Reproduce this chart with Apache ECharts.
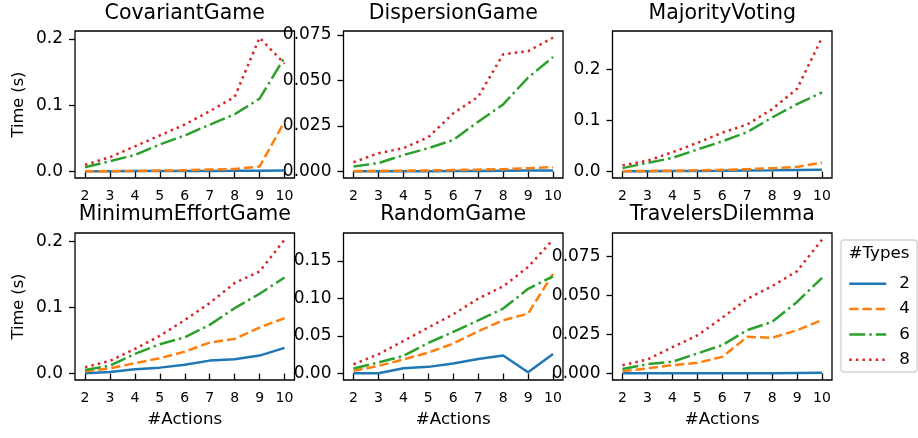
<!DOCTYPE html>
<html>
<head>
<meta charset="utf-8">
<script src="https://cdn.jsdelivr.net/npm/echarts@6/dist/echarts.min.js"></script>
<style>
  html, body { margin: 0; padding: 0; background: #fff; }
  #chart { width: 918px; height: 438px; }
</style>
</head>
<body>
<div id="chart"></div>
<script>
// Number of actions on the x axis
const actions = [2, 3, 4, 5, 6, 7, 8, 9, 10];
const typeNames = ['2', '4', '6', '8'];
const gameTitles = ['CovariantGame', 'DispersionGame', 'MajorityVoting',
                    'MinimumEffortGame', 'RandomGame', 'TravelersDilemma'];

// Solve time (s) per game and number of types
const covariant2 = [0.0005, 0.0006, 0.0007, 0.0008, 0.0009, 0.0010, 0.0011, 0.0013, 0.0015];
const covariant4 = [0.0004, 0.0006, 0.0010, 0.0015, 0.0020, 0.0030, 0.0040, 0.0075, 0.0755];
const covariant6 = [0.0065, 0.0156, 0.0250, 0.0410, 0.0545, 0.0707, 0.0864, 0.1100, 0.1720];
const covariant8 = [0.0101, 0.0217, 0.0380, 0.0545, 0.0710, 0.0910, 0.1126, 0.2020, 0.1630];

const dispersion2 = [0.0001, 0.0001, 0.0002, 0.0002, 0.0003, 0.0003, 0.0004, 0.0005, 0.0006];
const dispersion4 = [0.0002, 0.0003, 0.0004, 0.0006, 0.0008, 0.0010, 0.0013, 0.0018, 0.0024];
const dispersion6 = [0.0027, 0.0046, 0.0090, 0.0128, 0.0173, 0.0273, 0.0368, 0.0515, 0.0628];
const dispersion8 = [0.0051, 0.0100, 0.0128, 0.0188, 0.0319, 0.0410, 0.0643, 0.0660, 0.0734];

const majority2 = [0.0003, 0.0005, 0.0007, 0.0010, 0.0013, 0.0017, 0.0022, 0.0028, 0.0034];
const majority4 = [0.0005, 0.0010, 0.0015, 0.0022, 0.0030, 0.0045, 0.0065, 0.0090, 0.0175];
const majority6 = [0.0066, 0.0166, 0.0265, 0.0430, 0.0590, 0.0770, 0.1057, 0.1320, 0.1550];
const majority8 = [0.0119, 0.0210, 0.0376, 0.0560, 0.0760, 0.0920, 0.1220, 0.1620, 0.2620];

const minEffort2 = [0.0005, 0.0026, 0.0066, 0.0091, 0.0136, 0.0197, 0.0217, 0.0273, 0.0389];
const minEffort4 = [0.0036, 0.0080, 0.0158, 0.0233, 0.0333, 0.0470, 0.0526, 0.0697, 0.0840];
const minEffort6 = [0.0056, 0.0120, 0.0298, 0.0445, 0.0550, 0.0738, 0.0990, 0.1208, 0.1455];
const minEffort8 = [0.0097, 0.0192, 0.0374, 0.0571, 0.0810, 0.1067, 0.1370, 0.1545, 0.2026];

const random2 = [0.0003, 0.0003, 0.0070, 0.0089, 0.0133, 0.0195, 0.0240, 0.0017, 0.0262];
const random4 = [0.0036, 0.0102, 0.0187, 0.0280, 0.0400, 0.0564, 0.0710, 0.0799, 0.1330];
const random6 = [0.0067, 0.0147, 0.0235, 0.0408, 0.0555, 0.0710, 0.0866, 0.1130, 0.1297];
const random8 = [0.0124, 0.0257, 0.0434, 0.0613, 0.0790, 0.0999, 0.1163, 0.1420, 0.1785];

const travelers2 = [0.0001, 0.0001, 0.0001, 0.0001, 0.0002, 0.0002, 0.0002, 0.0003, 0.0004];
const travelers4 = [0.0015, 0.0032, 0.0053, 0.0068, 0.0106, 0.0234, 0.0228, 0.0277, 0.0341];
const travelers6 = [0.0028, 0.0060, 0.0075, 0.0128, 0.0181, 0.0277, 0.0330, 0.0457, 0.0611];
const travelers8 = [0.0053, 0.0089, 0.0168, 0.0243, 0.0356, 0.0477, 0.0558, 0.0654, 0.0855];

// y tick labels per panel
const ticksCovariant = [0, 0.1, 0.2];
const ticksDispersion = [0, 0.025, 0.05, 0.075];
const ticksMajority = [0, 0.1, 0.2];
const ticksMinEffort = [0, 0.1, 0.2];
const ticksRandom = [0, 0.05, 0.1, 0.15];
const ticksTravelers = [0, 0.025, 0.05, 0.075];
const tickDecimals = [1, 3, 1, 1, 2, 3];

const panelSeries = [
  [covariant2, covariant4, covariant6, covariant8],
  [dispersion2, dispersion4, dispersion6, dispersion8],
  [majority2, majority4, majority6, majority8],
  [minEffort2, minEffort4, minEffort6, minEffort8],
  [random2, random4, random6, random8],
  [travelers2, travelers4, travelers6, travelers8]
];
const panelTicks = [ticksCovariant, ticksDispersion, ticksMajority,
                    ticksMinEffort, ticksRandom, ticksTravelers];

const FONT = 'DejaVu Sans';
const colors = ['#1f77b4', '#ff7f0e', '#2ca02c', '#d62728'];
const LW = 2.5;
const dashes = ['solid', [9.25, 4], [16, 4, 2.5, 4], [2.5, 4.1]];

const colLeft = [75, 343.5, 612.5];
const rowTop = [31, 233];
const gridW = 219.5, gridH = 147;

const grids = [], xAxes = [], yAxes = [], series = [], graphics = [];

panelSeries.forEach(function (group, p) {
  const col = p % 3, row = Math.floor(p / 3);
  grids.push({
    left: colLeft[col], top: rowTop[row], width: gridW, height: gridH,
    show: true, borderColor: '#000', borderWidth: 1.3, backgroundColor: 'transparent'
  });

  // 5% padding around the data range, like the default autoscale margins
  let lo = Infinity, hi = -Infinity;
  group.forEach(function (arr) { arr.forEach(function (v) { lo = Math.min(lo, v); hi = Math.max(hi, v); }); });
  const pad = (hi - lo) * 0.05;

  xAxes.push({
    type: 'value', gridIndex: p, min: 1.6, max: 10.4,
    axisLine: { show: false },
    splitLine: { show: false },
    axisTick: { show: true, length: 6, customValues: actions, lineStyle: { color: '#000', width: 1.3 } },
    axisLabel: { customValues: actions, margin: 11, color: '#000', fontFamily: FONT, fontSize: 14 },
    name: row === 1 ? '#Actions' : '',
    nameLocation: 'middle', nameGap: 31,
    nameTextStyle: { color: '#000', fontFamily: FONT, fontSize: 16.7 }
  });

  const dec = tickDecimals[p];
  yAxes.push({
    type: 'value', gridIndex: p, min: lo - pad, max: hi + pad,
    axisLine: { show: false },
    splitLine: { show: false },
    axisTick: { show: true, length: 6, customValues: panelTicks[p], lineStyle: { color: '#000', width: 1.3 } },
    axisLabel: {
      customValues: panelTicks[p], margin: 12, color: '#000', fontFamily: FONT, fontSize: 17,
      formatter: function (v) { return v.toFixed(dec); }
    },
    name: col === 0 ? 'Time (s)' : '',
    nameLocation: 'middle', nameRotate: 90, nameGap: 48,
    nameTextStyle: { color: '#000', fontFamily: FONT, fontSize: 16.2 }
  });

  group.forEach(function (arr, k) {
    series.push({
      type: 'line', name: typeNames[k], xAxisIndex: p, yAxisIndex: p,
      data: actions.map(function (a, i) { return [a, arr[i]]; }),
      symbol: 'none', showSymbol: false, smooth: false,
      lineStyle: { color: colors[k], width: LW, type: dashes[k], cap: 'butt' },
      itemStyle: { color: colors[k] },
      emphasis: { disabled: true }
    });
  });

  graphics.push({
    type: 'text', x: colLeft[col] + gridW / 2, y: row === 0 ? 13.7 : 215,
    style: { text: gameTitles[p], font: '20.5px "' + FONT + '"', fill: '#000',
             align: 'center', verticalAlign: 'middle' }
  });
});

// Legend frame and title
graphics.push({
  type: 'rect', shape: { x: 841, y: 240, width: 76, height: 132, r: 3 },
  style: { fill: 'rgba(255,255,255,0.8)', stroke: '#d3d3d3', lineWidth: 1.3 }, z: 1
});
graphics.push({
  type: 'text', x: 879, y: 254,
  style: { text: '#Types', font: '16.7px "' + FONT + '"', fill: '#000',
           align: 'center', verticalAlign: 'middle' }, z: 2
});

const chart = echarts.init(document.getElementById('chart'), null, { renderer: 'canvas' });
chart.setOption({
  animation: false,
  backgroundColor: '#fff',
  color: colors,
  grid: grids,
  xAxis: xAxes,
  yAxis: yAxes,
  series: series,
  legend: {
    data: typeNames, orient: 'vertical', left: 848, top: 275.3,
    itemWidth: 37, itemHeight: 16, itemGap: 8.3,
    padding: 0, selectedMode: false, z: 3,
    itemStyle: { opacity: 0 },
    lineStyle: { width: LW },
    textStyle: { color: '#000', fontFamily: FONT, fontSize: 16.7, padding: [0, 0, 0, 8] }
  },
  graphic: graphics
});
</script>
</body>
</html>
